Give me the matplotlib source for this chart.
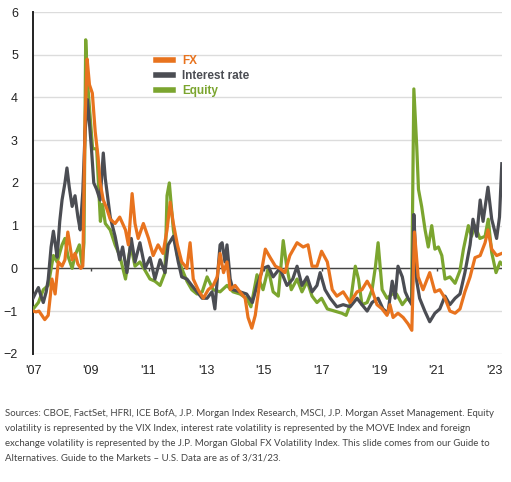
import matplotlib.pyplot as plt

# FX volatility (z-score)
fx_years = [2007.00, 2007.10, 2007.20, 2007.30, 2007.40, 2007.52, 2007.60, 2007.65, 2007.76, 2007.87,
            2008.00, 2008.10, 2008.20, 2008.35, 2008.45, 2008.55, 2008.65, 2008.72, 2008.80, 2008.87,
            2008.95, 2009.05, 2009.15, 2009.25, 2009.32, 2009.43, 2009.55, 2009.67, 2009.84, 2010.00,
            2010.20, 2010.30, 2010.43, 2010.53, 2010.64, 2010.82, 2011.00, 2011.16, 2011.33, 2011.50,
            2011.64, 2011.75, 2011.86, 2012.00, 2012.15, 2012.33, 2012.44, 2012.55, 2012.72, 2012.90,
            2013.07, 2013.24, 2013.38, 2013.48, 2013.60, 2013.72, 2013.83, 2014.00, 2014.17, 2014.35,
            2014.45, 2014.58, 2014.70, 2014.87, 2015.05, 2015.22, 2015.40, 2015.55, 2015.73, 2015.90,
            2016.15, 2016.36, 2016.53, 2016.67, 2016.84, 2017.00, 2017.20, 2017.37, 2017.53, 2017.75,
            2017.99, 2018.23, 2018.40, 2018.58, 2018.75, 2018.92, 2019.10, 2019.27, 2019.37, 2019.48,
            2019.65, 2019.83, 2020.00, 2020.13, 2020.22, 2020.35, 2020.52, 2020.75, 2020.93, 2021.10,
            2021.28, 2021.45, 2021.63, 2021.80, 2021.97, 2022.15, 2022.32, 2022.50, 2022.67, 2022.77,
            2022.90, 2023.07, 2023.25]
fx_vals = [-1.00, -1.02, -1.00, -1.10, -1.20, -1.10, -0.60, -0.25, -0.60, 0.15,
           0.05, 0.20, 0.85, 0.20, 0.35, 0.10, 0.00, 0.05, 3.50, 4.90,
           4.30, 4.10, 3.20, 2.60, 2.00, 1.60, 1.40, 1.15, 1.05, 1.20,
           0.90, 0.55, 1.75, 1.05, 0.70, 1.05, 0.70, 0.30, 0.55, 0.35,
           0.90, 1.55, 1.05, 0.55, 0.15, 0.00, 0.60, -0.25, -0.50, -0.70,
           -0.50, -0.40, -0.20, 0.35, -0.10, 0.15, -0.50, -0.40, -0.55, -0.70,
           -1.15, -1.40, -1.10, -0.25, 0.45, 0.25, 0.05, 0.00, -0.10, 0.30,
           0.60, 0.50, 0.55, 0.05, 0.05, 0.40, 0.15, -0.50, -0.65, -0.55,
           -0.80, -0.55, -0.50, -0.30, -0.50, -0.85, -0.95, -1.10, -0.85, -1.15,
           -1.05, -1.15, -1.30, -1.45, 0.85, -0.20, -0.50, -0.10, -0.55, -0.50,
           -0.70, -1.00, -1.05, -0.95, -0.55, -0.20, 0.25, 0.30, 0.60, 0.90,
           0.45, 0.30, 0.35]

# Interest rate volatility
ir_years = [2007.00, 2007.10, 2007.18, 2007.27, 2007.35, 2007.45, 2007.52, 2007.62, 2007.70, 2007.77,
            2007.83, 2007.92, 2008.00, 2008.10, 2008.17, 2008.25, 2008.35, 2008.45, 2008.55, 2008.63,
            2008.72, 2008.80, 2008.88, 2008.95, 2009.02, 2009.10, 2009.20, 2009.32, 2009.43, 2009.50,
            2009.67, 2009.84, 2010.00, 2010.10, 2010.25, 2010.40, 2010.53, 2010.70, 2010.88, 2011.05,
            2011.22, 2011.40, 2011.57, 2011.68, 2011.86, 2012.03, 2012.15, 2012.33, 2012.50, 2012.68,
            2012.86, 2013.03, 2013.20, 2013.30, 2013.48, 2013.55, 2013.65, 2013.72, 2013.83, 2013.93,
            2014.17, 2014.40, 2014.60, 2014.76, 2014.97, 2015.15, 2015.32, 2015.55, 2015.80, 2016.00,
            2016.15, 2016.32, 2016.50, 2016.67, 2016.84, 2016.95, 2017.12, 2017.30, 2017.53, 2017.75,
            2017.99, 2018.23, 2018.40, 2018.58, 2018.75, 2018.96, 2019.13, 2019.30, 2019.45, 2019.55,
            2019.65, 2019.80, 2019.90, 2020.00, 2020.13, 2020.20, 2020.25, 2020.30, 2020.40, 2020.58,
            2020.75, 2020.93, 2021.10, 2021.28, 2021.45, 2021.63, 2021.80, 2021.97, 2022.15, 2022.25,
            2022.38, 2022.50, 2022.60, 2022.77, 2022.90, 2023.07, 2023.17, 2023.25]
ir_vals = [-0.69, -0.55, -0.45, -0.65, -0.80, -0.55, -0.26, 0.50, 0.87, 0.55,
           0.26, 1.10, 1.60, 2.00, 2.35, 1.90, 1.45, 1.70, 1.20, 0.90,
           1.80, 3.20, 3.95, 3.40, 2.80, 2.00, 1.85, 1.60, 2.70, 2.10,
           1.20, 0.75, 0.20, 0.50, -0.10, 0.70, 0.15, 0.60, 0.00, 0.25,
           -0.25, 0.20, -0.10, 0.55, 0.75, 0.15, -0.20, -0.25, -0.40, -0.55,
           -0.70, -0.70, -0.55, -0.95, 0.55, 0.60, 0.15, 0.55, -0.25, -0.50,
           -0.55, -0.60, -0.80, -0.40, 0.00, 0.05, -0.20, 0.00, -0.40, -0.25,
           0.05, -0.40, -0.20, -0.55, -0.40, -0.10, -0.50, -0.70, -0.90, -0.85,
           -0.90, -0.70, -0.85, -1.00, -0.80, -0.70, -0.95, -1.05, -0.30, -0.70,
           0.05, -0.20, -0.55, -0.70, -0.85, 1.26, 0.50, -0.30, -0.70, -1.00,
           -1.25, -1.05, -0.95, -0.65, -0.85, -0.70, -0.60, -0.10, 0.55, 1.15,
           0.75, 1.60, 1.10, 1.90, 1.15, 0.70, 1.20, 2.45]

# Equity volatility
eq_years = [2007.00, 2007.18, 2007.35, 2007.52, 2007.70, 2007.83, 2008.00, 2008.10, 2008.20, 2008.35,
            2008.45, 2008.60, 2008.70, 2008.76, 2008.82, 2008.88, 2008.93, 2009.06, 2009.20, 2009.33,
            2009.40, 2009.50, 2009.67, 2009.84, 2010.00, 2010.20, 2010.38, 2010.53, 2010.70, 2010.88,
            2011.05, 2011.22, 2011.40, 2011.57, 2011.64, 2011.72, 2011.86, 2012.00, 2012.15, 2012.33,
            2012.50, 2012.68, 2012.86, 2013.03, 2013.24, 2013.48, 2013.72, 2013.93, 2014.17, 2014.40,
            2014.55, 2014.65, 2014.76, 2014.97, 2015.15, 2015.32, 2015.50, 2015.67, 2015.80, 2015.95,
            2016.15, 2016.32, 2016.50, 2016.67, 2016.84, 2017.00, 2017.20, 2017.45, 2017.70, 2017.85,
            2017.99, 2018.17, 2018.28, 2018.40, 2018.58, 2018.75, 2018.87, 2018.96, 2019.10, 2019.27,
            2019.45, 2019.60, 2019.80, 2019.97, 2020.12, 2020.20, 2020.30, 2020.36, 2020.47, 2020.59,
            2020.70, 2020.82, 2020.93, 2021.05, 2021.17, 2021.28, 2021.45, 2021.63, 2021.80, 2021.92,
            2022.09, 2022.20, 2022.32, 2022.49, 2022.67, 2022.78, 2022.90, 2023.05, 2023.19, 2023.25]
eq_vals = [-0.95, -0.80, -0.50, -0.40, 0.30, 0.15, 0.55, 0.70, 0.30, 0.00,
           0.30, 0.55, 0.05, 0.60, 5.35, 4.40, 3.95, 2.80, 2.80, 1.10,
           1.50, 1.05, 0.90, 0.55, 0.30, -0.25, 0.55, 0.05, 0.15, -0.05,
           -0.25, -0.30, -0.40, -0.10, 1.70, 2.00, 0.90, 0.30, 0.00, -0.30,
           -0.50, -0.60, -0.55, -0.20, -0.50, -0.55, -0.40, -0.55, -0.60, -0.70,
           -0.90, -0.55, -0.15, -0.50, 0.00, -0.55, -0.65, 0.65, 0.00, -0.50,
           -0.25, -0.55, -0.30, -0.65, -0.80, -0.70, -0.95, -1.00, -1.05, -1.10,
           -0.85, 0.05, -0.25, -0.85, -0.80, -0.50, 0.05, 0.60, -0.50, -0.70,
           -0.60, -0.60, -0.85, -0.70, -0.80, 4.20, 2.85, 1.85, 1.45, 0.90,
           0.50, 1.00, 0.45, 0.50, 0.30, -0.25, -0.20, -0.35, -0.05, 0.45,
           1.00, 0.75, 1.00, 0.70, 0.75, 1.15, 0.37, -0.10, 0.15, 0.10]

tick_years = [2007, 2009, 2011, 2013, 2015, 2017, 2019, 2021, 2023]
tick_labels = ["'07", "'09", "'11", "'13", "'15", "'17", "'19", "'21", "'23"]

footnote = ("Sources: CBOE, FactSet, HFRI, ICE BofA, J.P. Morgan Index Research, MSCI, J.P. Morgan Asset Management. Equity\n"
            "volatility is represented by the VIX Index, interest rate volatility is represented by the MOVE Index and foreign\n"
            "exchange volatility is represented by the J.P. Morgan Global FX Volatility Index. This slide comes from our Guide to\n"
            "Alternatives. Guide to the Markets \u2013 U.S. Data are as of 3/31/23.")

orange = '#e8731e'
gray = '#4b4d53'
green = '#7ba52f'

plt.rcParams['font.family'] = ['Liberation Sans', 'DejaVu Sans']

fig = plt.figure(figsize=(5.11, 4.82), dpi=100)
ax = fig.add_axes([0.065, 0.266, 0.917, 0.709])

ax.plot(eq_years, eq_vals, color=green, lw=2.3, label='Equity', zorder=3)
ax.plot(ir_years, ir_vals, color=gray, lw=2.3, label='Interest rate', zorder=4)
ax.plot(fx_years, fx_vals, color=orange, lw=2.3, label='FX', zorder=5)

ax.axhline(0, color='#444444', lw=1.0, zorder=2)
ax.vlines(tick_years[1:], -0.06, 0, color='#444444', lw=1.0, zorder=2)

ax.set_xlim(2007, 2023.25)
ax.set_ylim(-2, 6)
ax.set_yticks(range(-2, 7))
ax.set_xticks(tick_years)
ax.set_xticklabels(tick_labels)
ax.grid(axis='y', color='#dcdcdc', lw=1.0, zorder=0)
ax.set_axisbelow(True)
for s in ['top', 'right', 'bottom']:
    ax.spines[s].set_visible(False)
ax.spines['left'].set_color('#222222')
ax.spines['left'].set_linewidth(1.4)
ax.tick_params(axis='both', length=0, labelsize=9, colors='#222222')
ax.tick_params(axis='y', pad=11)
ax.tick_params(axis='x', pad=8)

handles, labels = ax.get_legend_handles_labels()
order = [2, 1, 0]
leg = ax.legend([handles[i] for i in order], [labels[i] for i in order],
                loc='upper left', bbox_to_anchor=(0.24, 0.905), frameon=False,
                handlelength=1.4, handletextpad=0.8, labelspacing=0.25,
                prop={'weight': 'bold', 'size': 8.5}, labelcolor='linecolor')
for line in leg.get_lines():
    line.set_linewidth(4)

fig.text(0.01, 0.152, footnote, ha='left', va='top', fontsize=6.9,
         family=['Lato', 'DejaVu Sans'], color='#444444', linespacing=1.85)

plt.savefig('out.png', dpi=100)
